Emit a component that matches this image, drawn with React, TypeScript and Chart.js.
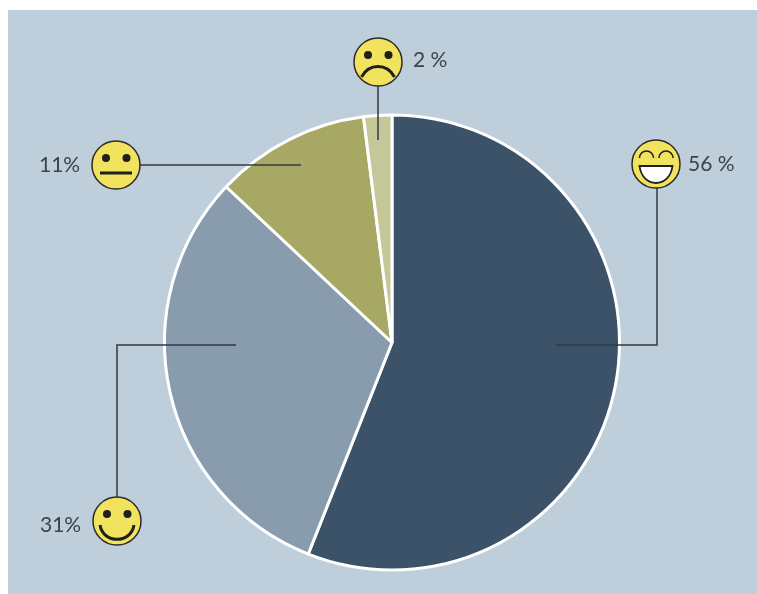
import React, { useEffect, useRef } from "react";
import { Chart, registerables } from "chart.js";

Chart.register(...registerables);

const categories = ["Very satisfied", "Satisfied", "Neutral", "Dissatisfied"];
const shares = [56, 31, 11, 2];
const shareLabels = ["56 %", "31%", "11%", "2 %"];
const sliceColors = ["#3c5269", "#899cad", "#a6a863", "#c5c799"];
const moods = ["grin", "smile", "neutral", "frown"];

// Callout geometry: badge centre, text anchor and leader polyline per slice.
const badgeCentres = [[656, 164], [117, 521], [116, 165], [378, 62]];
const labelAnchors = [[688, 171], [40, 532], [39, 172], [413, 67]];
const leaders = [
  [[657, 188], [657, 345], [556, 345]],
  [[236, 345], [117, 345], [117, 497]],
  [[140, 165], [301, 165]],
  [[378, 86], [378, 140]],
];

const INK = "#1f1f1f";

function drawBadge(ctx: CanvasRenderingContext2D, cx: number, cy: number, mood: string) {
  ctx.save();
  ctx.translate(cx, cy);
  ctx.beginPath();
  ctx.arc(0, 0, 24, 0, Math.PI * 2);
  ctx.fillStyle = "#f2e35e";
  ctx.fill();
  ctx.lineWidth = 1.5;
  ctx.strokeStyle = "#2b2b2b";
  ctx.stroke();

  ctx.strokeStyle = INK;
  ctx.fillStyle = INK;
  ctx.lineCap = "butt";

  if (mood === "grin") {
    ctx.lineWidth = 1.6;
    for (const side of [-9.5, 10]) {
      ctx.beginPath();
      ctx.arc(side, -6, 7, Math.PI, 0);
      ctx.stroke();
    }
    ctx.beginPath();
    ctx.moveTo(-16.5, 2);
    ctx.lineTo(16.5, 2);
    ctx.bezierCurveTo(15, 13, 8, 19, 0, 19);
    ctx.bezierCurveTo(-8, 19, -15, 13, -16.5, 2);
    ctx.closePath();
    ctx.fillStyle = "#ffffff";
    ctx.fill();
    ctx.lineWidth = 1.8;
    ctx.stroke();
  } else {
    for (const side of [-10, 10.5]) {
      ctx.beginPath();
      ctx.arc(side, -7, 4, 0, Math.PI * 2);
      ctx.fill();
    }
    ctx.lineWidth = 3;
    ctx.beginPath();
    if (mood === "neutral") {
      ctx.moveTo(-16, 8);
      ctx.lineTo(16, 8);
    } else if (mood === "smile") {
      ctx.moveTo(-17, 4);
      ctx.bezierCurveTo(-14, 23, 14, 23, 17, 4);
    } else {
      ctx.moveTo(-16.5, 15);
      ctx.bezierCurveTo(-9, 1, 9, 1, 16.5, 15);
    }
    ctx.stroke();
  }
  ctx.restore();
}

// Paints the tinted panel behind the pie.
const panelPlugin = {
  id: "panel",
  beforeDraw(chart: Chart) {
    const { ctx, width, height } = chart;
    ctx.save();
    ctx.fillStyle = "#ffffff";
    ctx.fillRect(0, 0, width, height);
    ctx.fillStyle = "#becedb";
    ctx.fillRect(8, 10, width - 8, height - 10);
    ctx.restore();
  },
};

// Draws leader lines, mood badges and percentage labels over the slices.
const calloutPlugin = {
  id: "callouts",
  afterDatasetsDraw(chart: Chart) {
    const { ctx } = chart;
    ctx.save();
    ctx.strokeStyle = "#2f3a44";
    ctx.lineWidth = 1.5;
    for (const path of leaders) {
      ctx.beginPath();
      path.forEach(([x, y], i) => (i ? ctx.lineTo(x, y) : ctx.moveTo(x, y)));
      ctx.stroke();
    }
    moods.forEach((mood, i) => drawBadge(ctx, badgeCentres[i][0], badgeCentres[i][1], mood));
    ctx.fillStyle = "#36454f";
    ctx.font = '21px Lato, sans-serif';
    ctx.textAlign = "left";
    ctx.textBaseline = "alphabetic";
    shareLabels.forEach((text, i) => ctx.fillText(text, labelAnchors[i][0], labelAnchors[i][1]));
    ctx.restore();
  },
};

export default function App() {
  const canvasRef = useRef<HTMLCanvasElement>(null);

  useEffect(() => {
    document.body.style.margin = "0";
    const chart = new Chart(canvasRef.current!, {
      type: "pie",
      data: {
        labels: categories,
        datasets: [
          {
            data: shares,
            backgroundColor: sliceColors,
            borderColor: "#ffffff",
            borderWidth: 3,
          },
        ],
      },
      options: {
        responsive: false,
        animation: false,
        layout: { padding: { left: 163, right: 136, top: 113, bottom: 22 } },
        plugins: { legend: { display: false }, tooltip: { enabled: false } },
      },
      plugins: [panelPlugin, calloutPlugin],
    });
    return () => chart.destroy();
  }, []);

  return <canvas ref={canvasRef} width={757} height={594} style={{ display: "block" }} />;
}
